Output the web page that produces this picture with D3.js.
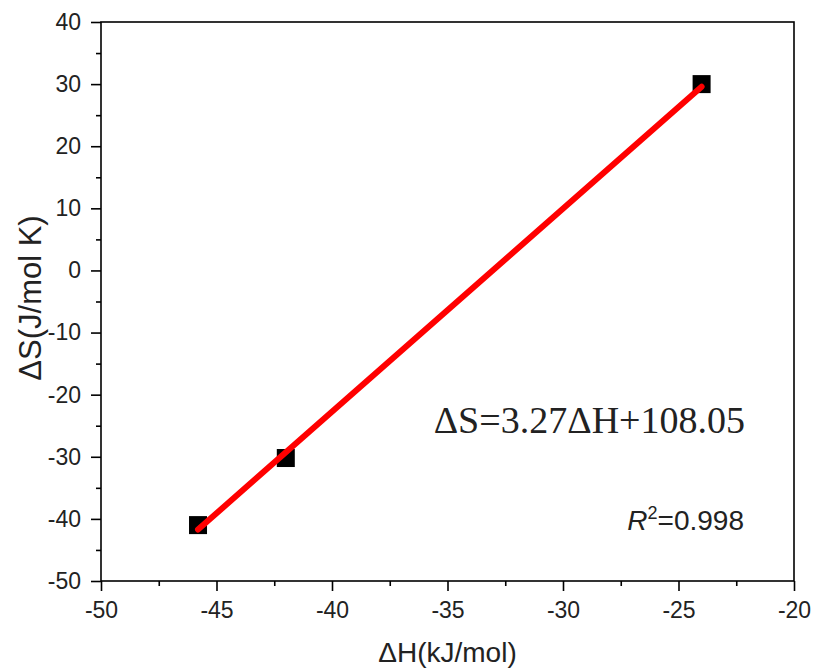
<!DOCTYPE html>
<html>
<head>
<meta charset="utf-8">
<script src="https://cdn.jsdelivr.net/npm/d3@7"></script>
<style>
  body { margin: 0; background: #fff; }
</style>
</head>
<body>
<script>
// measured points
const dH = [-45.8, -42.0, -24.0]
const dS = [-41.0, -30.2, 30.0]

// linear fit shown on the chart
const slope = 3.27
const intercept = 108.05
const r2 = '0.998'

const xTicks = [-50, -45, -40, -35, -30, -25, -20]
const yTicks = [-50, -40, -30, -20, -10, 0, 10, 20, 30, 40]

const m = { width: 815, height: 670, left: 101, top: 22, right: 794, bottom: 581 }
const sans = '"Liberation Sans", Arial, sans-serif'

const svg = d3.select('body').append('svg')
    .attr('width', m.width)
    .attr('height', m.height)
    .attr('font-family', sans)

const x = d3.scaleLinear().domain([-50, -20]).range([m.left, m.right])
const y = d3.scaleLinear().domain([-50, 40]).range([m.bottom, m.top])

const fmt = d => String(d)   // plain hyphen minus, like the original

// frame
svg.append('rect')
    .attr('x', m.left).attr('y', m.top)
    .attr('width', m.right - m.left).attr('height', m.bottom - m.top)
    .attr('fill', 'none').attr('stroke', '#000').attr('stroke-width', 1.6)

// x axis
const xAxis = svg.append('g').attr('transform', `translate(0,${m.bottom})`)
xAxis.call(d3.axisBottom(x).tickValues(xTicks).tickSize(10).tickPadding(11).tickFormat(fmt))
xAxis.append('g').call(d3.axisBottom(x).tickValues(d3.range(-47.5, -20, 5)).tickSize(5).tickFormat(''))

// y axis
const yAxis = svg.append('g').attr('transform', `translate(${m.left},0)`)
yAxis.call(d3.axisLeft(y).tickValues(yTicks).tickSize(10).tickPadding(10).tickFormat(fmt))
yAxis.append('g').call(d3.axisLeft(y).tickValues(d3.range(-45, 40, 10)).tickSize(5).tickFormat(''))

svg.selectAll('.domain').remove()
svg.selectAll('g').attr('font-family', sans)
svg.selectAll('.tick line').attr('stroke', '#000').attr('stroke-width', 1.6)
svg.selectAll('.tick text').attr('font-size', 23).attr('fill', '#222')

// axis titles
svg.append('text')
    .attr('x', (m.left + m.right) / 2).attr('y', 662)
    .attr('text-anchor', 'middle').attr('font-size', 28).attr('fill', '#222')
    .text('ΔH(kJ/mol)')

svg.append('text')
    .attr('transform', `translate(41,298) rotate(-90)`)
    .attr('text-anchor', 'middle').attr('font-size', 31).attr('fill', '#222')
    .text('ΔS(J/mol K)')

// data squares
const pts = dH.map((d, i) => ({ h: d, s: dS[i] }))
svg.selectAll('.pt')
    .data(pts)
    .enter()
    .append('rect')
        .attr('class', 'pt')
        .attr('x', d => x(d.h) - 9)
        .attr('y', d => y(d.s) - 9)
        .attr('width', 18).attr('height', 18)
        .attr('fill', '#000')

// fit line over data range
const xMin = d3.min(dH), xMax = d3.max(dH)
svg.append('line')
    .attr('x1', x(xMin)).attr('y1', y(slope * xMin + intercept))
    .attr('x2', x(xMax)).attr('y2', y(slope * xMax + intercept))
    .attr('stroke', '#ff0000').attr('stroke-width', 6)
    .attr('stroke-linecap', 'round')

// annotations
svg.append('text')
    .attr('x', 745).attr('y', 433)
    .attr('text-anchor', 'end')
    .attr('font-family', '"Liberation Serif", "Times New Roman", serif')
    .attr('font-size', 38).attr('fill', '#222')
    .text(`ΔS=${slope}ΔH+${intercept}`)

const rt = svg.append('text')
    .attr('x', 744).attr('y', 530)
    .attr('text-anchor', 'end')
    .attr('font-size', 28).attr('fill', '#222')
rt.append('tspan').attr('font-style', 'italic').text('R')
rt.append('tspan').attr('font-size', 18).attr('dy', -11).text('2')
rt.append('tspan').attr('dy', 11).text('=' + r2)
</script>
</body>
</html>
